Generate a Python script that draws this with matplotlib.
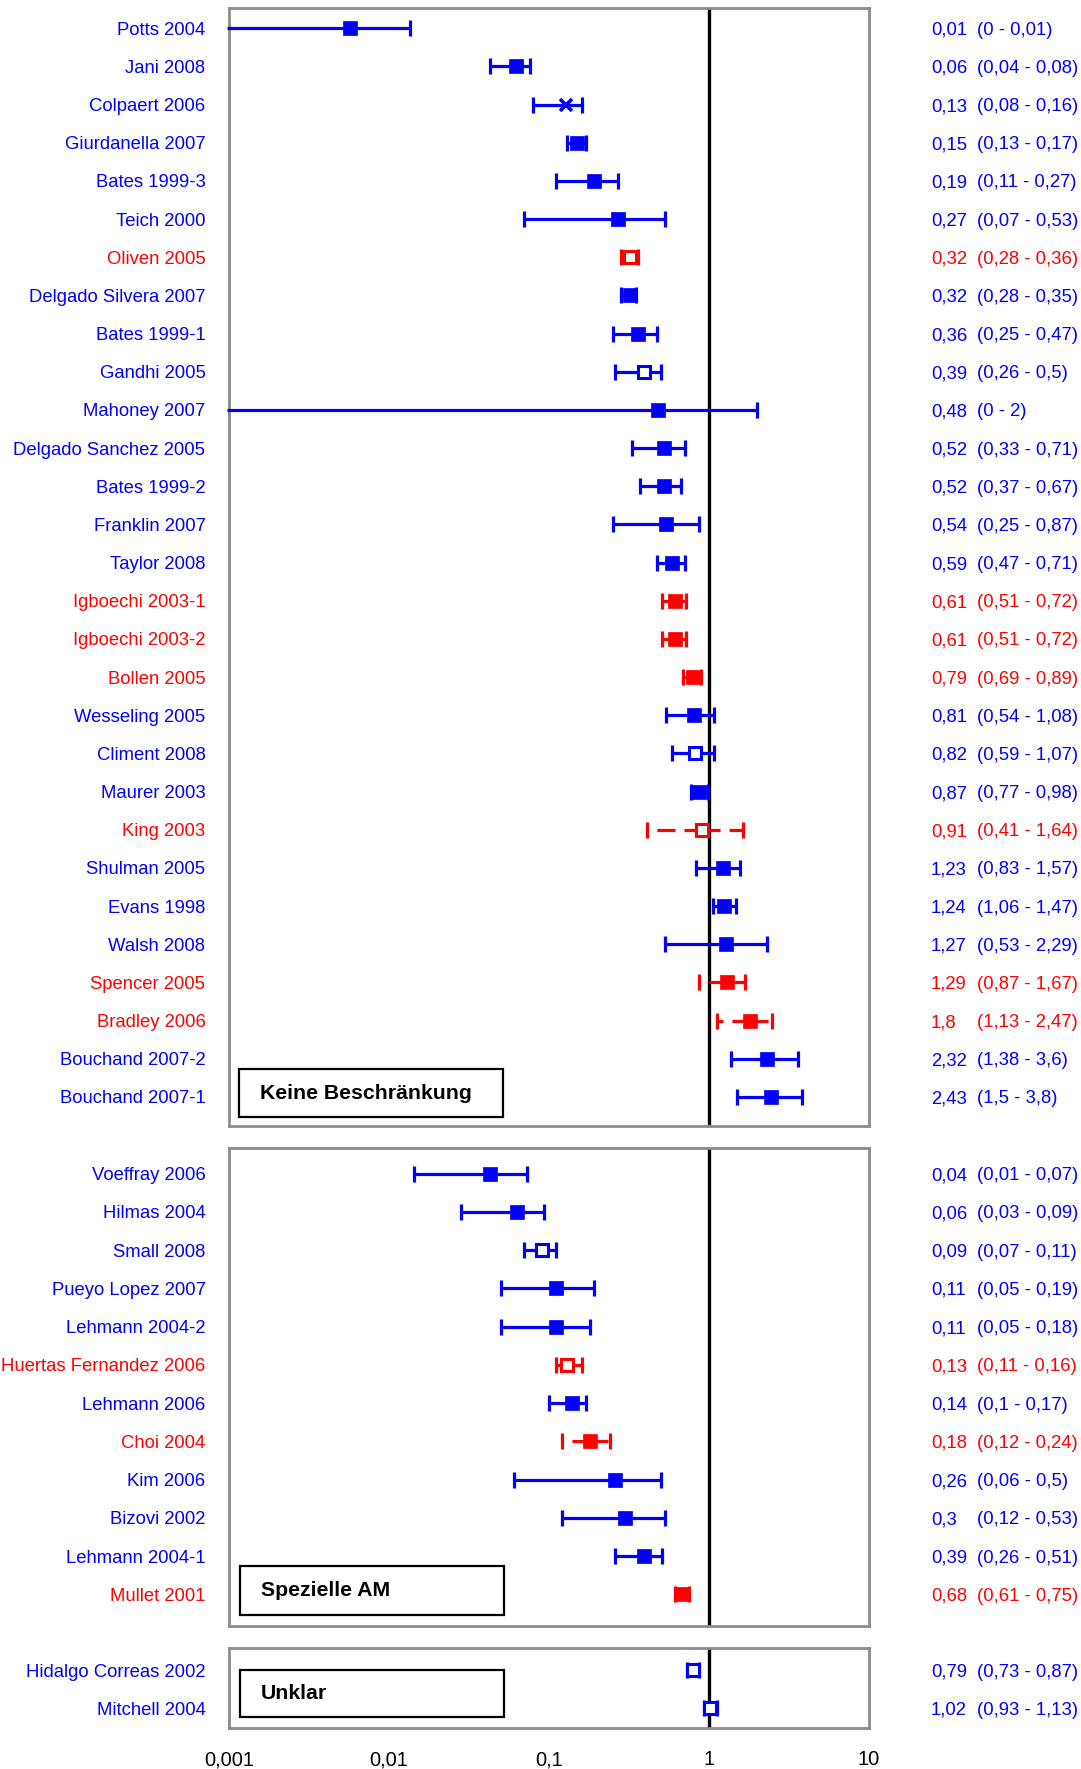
import matplotlib
matplotlib.use("Agg")
import matplotlib.pyplot as plt
from matplotlib.patches import Rectangle
from matplotlib.transforms import blended_transform_factory

plt.rcParams['font.family'] = ['Liberation Sans', 'DejaVu Sans']
plt.rcParams['lines.scale_dashes'] = False

# --- data -------------------------------------------------------------
p1_names = ["Potts 2004", "Jani 2008", "Colpaert 2006", "Giurdanella 2007",
            "Bates 1999-3", "Teich 2000", "Oliven 2005", "Delgado Silvera 2007",
            "Bates 1999-1", "Gandhi 2005", "Mahoney 2007", "Delgado Sanchez 2005",
            "Bates 1999-2", "Franklin 2007", "Taylor 2008", "Igboechi 2003-1",
            "Igboechi 2003-2", "Bollen 2005", "Wesseling 2005", "Climent 2008",
            "Maurer 2003", "King 2003", "Shulman 2005", "Evans 1998", "Walsh 2008",
            "Spencer 2005", "Bradley 2006", "Bouchand 2007-2", "Bouchand 2007-1"]
p1_est = [0.0057, 0.062, 0.127, 0.15, 0.19, 0.27, 0.32, 0.32, 0.36, 0.39, 0.48,
          0.52, 0.52, 0.54, 0.59, 0.61, 0.61, 0.79, 0.81, 0.82, 0.87, 0.91, 1.23,
          1.24, 1.27, 1.29, 1.8, 2.32, 2.43]
p1_lo = [0, 0.043, 0.08, 0.13, 0.11, 0.07, 0.28, 0.28, 0.25, 0.26, 0, 0.33, 0.37,
         0.25, 0.47, 0.51, 0.51, 0.69, 0.54, 0.59, 0.77, 0.41, 0.83, 1.06, 0.53,
         0.87, 1.13, 1.38, 1.5]
p1_hi = [0.0135, 0.076, 0.16, 0.17, 0.27, 0.53, 0.36, 0.35, 0.47, 0.5, 2, 0.71,
         0.67, 0.87, 0.71, 0.72, 0.72, 0.89, 1.08, 1.07, 0.98, 1.64, 1.57, 1.47,
         2.29, 1.67, 2.47, 3.6, 3.8]
p1_red = ["Oliven 2005", "Igboechi 2003-1", "Igboechi 2003-2", "Bollen 2005",
          "King 2003", "Spencer 2005", "Bradley 2006"]
p1_open = ["Oliven 2005", "Gandhi 2005", "Climent 2008", "King 2003"]
p1_cross = ["Colpaert 2006"]

p2_names = ["Voeffray 2006", "Hilmas 2004", "Small 2008", "Pueyo Lopez 2007",
            "Lehmann 2004-2", "Huertas Fernandez 2006", "Lehmann 2006", "Choi 2004",
            "Kim 2006", "Bizovi 2002", "Lehmann 2004-1", "Mullet 2001"]
p2_est = [0.043, 0.063, 0.09, 0.11, 0.11, 0.13, 0.14, 0.18, 0.26, 0.3, 0.39, 0.68]
p2_lo = [0.0144, 0.028, 0.07, 0.05, 0.05, 0.11, 0.1, 0.12, 0.06, 0.12, 0.26, 0.61]
p2_hi = [0.073, 0.093, 0.11, 0.19, 0.18, 0.16, 0.17, 0.24, 0.5, 0.53, 0.51, 0.75]
p2_red = ["Huertas Fernandez 2006", "Choi 2004", "Mullet 2001"]
p2_open = ["Small 2008", "Huertas Fernandez 2006"]

p3_names = ["Hidalgo Correas 2002", "Mitchell 2004"]
p3_est = [0.79, 1.02]
p3_lo = [0.73, 0.93]
p3_hi = [0.87, 1.13]
p3_open = ["Hidalgo Correas 2002", "Mitchell 2004"]

group_titles = ["Keine Beschränkung", "Spezielle AM", "Unklar"]
x_ticks = [0.001, 0.01, 0.1, 1, 10]
x_ticklabels = ["0,001", "0,01", "0,1", "1", "10"]

BLUE = "#0000ff"
RED = "#ff0000"
FS = 13.3


def fmt(v):
    s = f"{v:.2f}".rstrip('0').rstrip('.')
    return s.replace('.', ',')


fig = plt.figure(figsize=(10.81, 17.69), dpi=100)
W, H = 1081, 1769


def make_ax(top, bottom):
    return fig.add_axes([229 / W, 1 - bottom / H, 640 / W, (bottom - top) / H])


panels = [
    (make_ax(8, 1126), p1_names, p1_est, p1_lo, p1_hi, p1_red, p1_open, p1_cross,
     (28.76, -0.53), (0.0156, 0.008, 0.412, 0.043)),
    (make_ax(1148, 1626), p2_names, p2_est, p2_lo, p2_hi, p2_red, p2_open, [],
     (11.83, -0.67), (0.0172, 0.023, 0.412, 0.103)),
    (make_ax(1648, 1728), p3_names, p3_est, p3_lo, p3_hi, [], p3_open, [],
     (1.51, -0.58), (0.0172, 0.1375, 0.412, 0.5875)),
]

for i, (ax, names, est, lo, hi, reds, opens, crosses, ylim, box) in enumerate(panels):
    ax.set_xscale('log')
    ax.set_xlim(0.001, 10)
    ax.set_ylim(*ylim)
    xmin = ax.get_xlim()[0]
    trans = blended_transform_factory(ax.transAxes, ax.transData)
    for y, (n, e, l, h) in enumerate(zip(names, est, lo, hi)):
        c = RED if n in reds else BLUE
        ls = (0, (13, 6.5)) if n in reds else '-'
        left = l if l > 0 else xmin * 0.97
        ax.plot([e, left], [y, y], color=c, lw=2.3, ls=ls, solid_capstyle='butt',
                clip_on=False, zorder=3)
        ax.plot([e, h], [y, y], color=c, lw=2.3, ls=ls, solid_capstyle='butt',
                zorder=3)
        caps = [h] if l <= 0 else [l, h]
        ax.plot(caps, [y] * len(caps), ls='none', marker='|', ms=12, mew=2.3,
                color=c, zorder=3)
        if n in crosses:
            ax.plot([e], [y], marker='x', ms=8, mew=2.6, color=c, zorder=4)
        elif n in opens:
            ax.plot([e], [y], marker='s', ms=8.5, mew=2.2, mfc='white', mec=c,
                    zorder=4)
        else:
            ax.plot([e], [y], marker='s', ms=10, mew=0.5, color=c, zorder=4)
        ax.text(1.097, y, fmt(e), transform=trans, color=c, fontsize=FS,
                va='center_baseline', ha='left')
        ax.text(1.169, y, f"({fmt(l)} - {fmt(h)})", transform=trans, color=c,
                fontsize=FS, va='center_baseline', ha='left')

    ax.set_yticks(range(len(names)))
    ax.set_yticklabels(names, fontsize=FS)
    for lab, n in zip(ax.get_yticklabels(), names):
        lab.set_color(RED if n in reds else BLUE)
    ax.tick_params(axis='y', length=0, pad=17)
    ax.tick_params(axis='x', which='both', length=0)
    ax.minorticks_off()
    ax.set_xticks(x_ticks)
    if i == 2:
        ax.set_xticklabels(x_ticklabels, fontsize=14.5)
        ax.tick_params(axis='x', pad=16)
    else:
        ax.set_xticklabels([])

    ax.axvline(1, color='black', lw=2.4, zorder=2)
    for sp in ax.spines.values():
        sp.set_color('#8c8c8c')
        sp.set_linewidth(2)

    bx, by, bw, bh = box
    ax.add_patch(Rectangle((bx, by), bw, bh, transform=ax.transAxes,
                           facecolor='white', edgecolor='black', lw=1.6, zorder=5))
    ax.text(bx + 0.033, by + bh / 2, group_titles[i], transform=ax.transAxes,
            fontsize=15.3, fontweight='bold', va='center', ha='left', zorder=6)

fig.savefig("out.png", dpi=100)
